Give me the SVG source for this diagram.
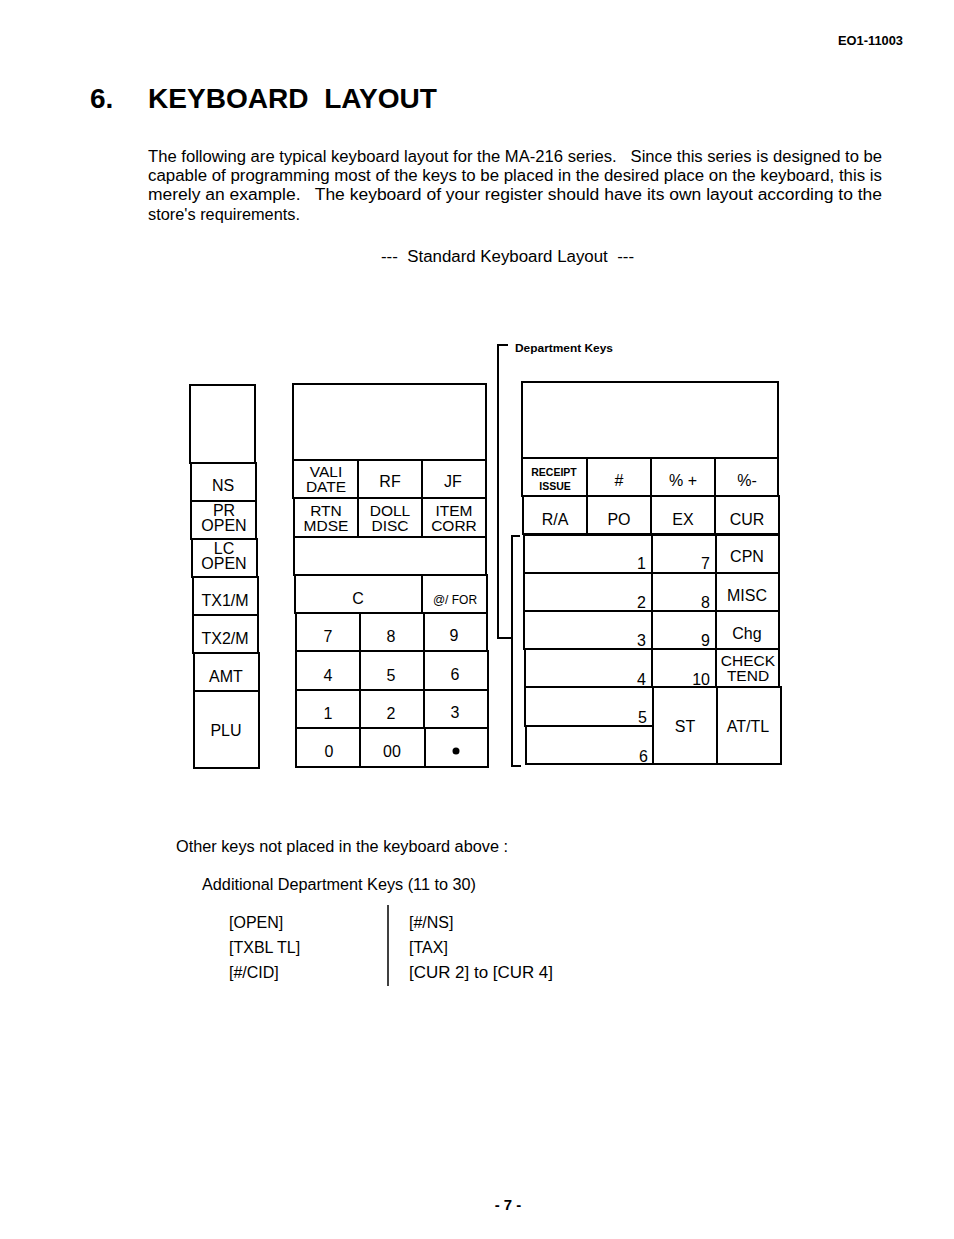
<svg xmlns="http://www.w3.org/2000/svg" width="954" height="1239" viewBox="0 0 954 1239">
<style>
  text { font-family: "Liberation Sans", Arial, sans-serif; fill: #000; }
  .k { font-size: 16px; text-anchor: middle; }
  .ks { font-size: 15.5px; text-anchor: middle; }
  .n { font-size: 16px; text-anchor: end; }
  .cell { fill: #fff; stroke: #000; stroke-width: 2; }
  .br { fill: none; stroke: #000; stroke-width: 2; }
  .p { font-size: 16px; }
</style>
<rect width="954" height="1239" fill="#fff"/>

<g id="header">
  <text x="838" y="45" font-size="12" font-weight="bold" textLength="65" lengthAdjust="spacingAndGlyphs">EO1-11003</text>
  <text x="90" y="108" font-size="28" font-weight="bold">6.</text>
  <text x="148" y="108" font-size="28" font-weight="bold" textLength="289" lengthAdjust="spacingAndGlyphs" xml:space="preserve">KEYBOARD  LAYOUT</text>
</g>

<g id="intro">
  <text class="p" x="148" y="162" textLength="734" lengthAdjust="spacingAndGlyphs" xml:space="preserve">The following are typical keyboard layout for the MA-216 series.   Since this series is designed to be</text>
  <text class="p" x="148" y="181" textLength="734" lengthAdjust="spacingAndGlyphs">capable of programming most of the keys to be placed in the desired place on the keyboard, this is</text>
  <text class="p" x="148" y="200" textLength="734" lengthAdjust="spacingAndGlyphs" xml:space="preserve">merely an example.   The keyboard of your register should have its own layout according to the</text>
  <text class="p" x="148" y="220" textLength="152" lengthAdjust="spacingAndGlyphs">store's requirements.</text>
  <text class="p" x="381" y="262" textLength="253" lengthAdjust="spacingAndGlyphs" xml:space="preserve">---  Standard Keyboard Layout  ---</text>
</g>

<g id="left-column">
  <rect class="cell" x="190" y="385" width="65" height="78"/>
  <rect class="cell" x="191" y="463" width="65" height="38"/>
  <text class="k" x="223" y="491">NS</text>
  <rect class="cell" x="191" y="501" width="65" height="38"/>
  <text class="k" x="224" y="516">PR</text>
  <text class="k" x="224" y="531">OPEN</text>
  <rect class="cell" x="192" y="539" width="65" height="38"/>
  <text class="k" x="224" y="554">LC</text>
  <text class="k" x="224" y="569">OPEN</text>
  <rect class="cell" x="193" y="577" width="65" height="38"/>
  <text class="k" x="225" y="606">TX1/M</text>
  <rect class="cell" x="193" y="615" width="65" height="38"/>
  <text class="k" x="225" y="644">TX2/M</text>
  <rect class="cell" x="194" y="653" width="65" height="38"/>
  <text class="k" x="226" y="682">AMT</text>
  <rect class="cell" x="194" y="691" width="65" height="77"/>
  <text class="k" x="226" y="736">PLU</text>
</g>

<g id="middle-block">
  <rect class="cell" x="293" y="384" width="193" height="76"/>
  <rect class="cell" x="293" y="460" width="65" height="38"/>
  <text class="ks" x="326" y="477">VALI</text>
  <text class="ks" x="326" y="492">DATE</text>
  <rect class="cell" x="358" y="460" width="64" height="38"/>
  <text class="k" x="390" y="487">RF</text>
  <rect class="cell" x="422" y="460" width="64" height="38"/>
  <text class="k" x="453" y="487">JF</text>
  <rect class="cell" x="294" y="498" width="64" height="39"/>
  <text class="ks" x="326" y="516">RTN</text>
  <text class="ks" x="326" y="531">MDSE</text>
  <rect class="cell" x="358" y="498" width="64" height="39"/>
  <text class="ks" x="390" y="516">DOLL</text>
  <text class="ks" x="390" y="531">DISC</text>
  <rect class="cell" x="422" y="498" width="64" height="39"/>
  <text class="ks" x="454" y="516">ITEM</text>
  <text class="ks" x="454" y="531">CORR</text>
  <rect class="cell" x="294" y="537" width="192" height="38"/>
  <rect class="cell" x="295" y="575" width="127" height="38"/>
  <text class="k" x="358" y="604">C</text>
  <rect class="cell" x="422" y="575" width="65" height="38"/>
  <text x="455" y="604" font-size="12" text-anchor="middle">@/ FOR</text>
  <rect class="cell" x="296" y="613" width="64" height="38"/>
  <text class="k" x="328" y="642">7</text>
  <rect class="cell" x="360" y="613" width="64" height="38"/>
  <text class="k" x="391" y="642">8</text>
  <rect class="cell" x="424" y="613" width="63" height="38"/>
  <text class="k" x="454" y="641">9</text>
  <rect class="cell" x="296" y="651" width="64" height="39"/>
  <text class="k" x="328" y="681">4</text>
  <rect class="cell" x="360" y="651" width="64" height="39"/>
  <text class="k" x="391" y="681">5</text>
  <rect class="cell" x="424" y="651" width="64" height="39"/>
  <text class="k" x="455" y="680">6</text>
  <rect class="cell" x="296" y="690" width="64" height="38"/>
  <text class="k" x="328" y="719">1</text>
  <rect class="cell" x="360" y="690" width="64" height="38"/>
  <text class="k" x="391" y="719">2</text>
  <rect class="cell" x="424" y="690" width="64" height="38"/>
  <text class="k" x="455" y="718">3</text>
  <rect class="cell" x="296" y="728" width="64" height="39"/>
  <text class="k" x="329" y="757">0</text>
  <rect class="cell" x="360" y="728" width="65" height="39"/>
  <text class="k" x="392" y="757">00</text>
  <rect class="cell" x="425" y="728" width="63" height="39"/>
  <circle cx="456" cy="751" r="3.5" fill="#000"/>
</g>

<g id="right-block">
  <rect class="cell" x="522" y="382" width="256" height="76"/>
  <rect class="cell" x="522" y="458" width="65" height="38"/>
  <text x="554" y="476" font-size="10.5" font-weight="bold" text-anchor="middle">RECEIPT</text>
  <text x="555" y="490" font-size="10.5" font-weight="bold" text-anchor="middle">ISSUE</text>
  <rect class="cell" x="587" y="458" width="64" height="38"/>
  <text class="k" x="619" y="486">#</text>
  <rect class="cell" x="651" y="458" width="64" height="38"/>
  <text class="k" x="683" y="486" xml:space="preserve">% +</text>
  <rect class="cell" x="715" y="458" width="63" height="38"/>
  <text class="k" x="747" y="486">%-</text>
  <rect class="cell" x="523" y="496" width="64" height="38"/>
  <text class="k" x="555" y="525">R/A</text>
  <rect class="cell" x="587" y="496" width="64" height="38"/>
  <text class="k" x="619" y="525">PO</text>
  <rect class="cell" x="651" y="496" width="64" height="38"/>
  <text class="k" x="683" y="525">EX</text>
  <rect class="cell" x="715" y="496" width="64" height="38"/>
  <text class="k" x="747" y="525">CUR</text>

  <rect class="cell" x="524" y="535" width="128" height="38"/>
  <text class="n" x="646" y="569">1</text>
  <rect class="cell" x="652" y="535" width="64" height="38"/>
  <text class="n" x="710" y="569">7</text>
  <rect class="cell" x="716" y="535" width="63" height="38"/>
  <text class="k" x="747" y="562">CPN</text>

  <rect class="cell" x="524" y="573" width="128" height="38"/>
  <text class="n" x="646" y="608">2</text>
  <rect class="cell" x="652" y="573" width="64" height="38"/>
  <text class="n" x="710" y="608">8</text>
  <rect class="cell" x="716" y="573" width="63" height="38"/>
  <text class="k" x="747" y="601">MISC</text>

  <rect class="cell" x="524" y="611" width="128" height="38"/>
  <text class="n" x="646" y="646">3</text>
  <rect class="cell" x="652" y="611" width="64" height="38"/>
  <text class="n" x="710" y="646">9</text>
  <rect class="cell" x="716" y="611" width="63" height="38"/>
  <text class="k" x="747" y="639">Chg</text>

  <rect class="cell" x="525" y="649" width="127" height="38"/>
  <text class="n" x="646" y="685">4</text>
  <rect class="cell" x="652" y="649" width="64" height="38"/>
  <text class="n" x="710" y="685">10</text>
  <rect class="cell" x="716" y="649" width="63" height="38"/>
  <text class="ks" x="748" y="666">CHECK</text>
  <text class="ks" x="748" y="681">TEND</text>

  <rect class="cell" x="525" y="687" width="128" height="39"/>
  <text class="n" x="647" y="723">5</text>
  <rect class="cell" x="526" y="726" width="127" height="38"/>
  <text class="n" x="648" y="762">6</text>
  <rect class="cell" x="653" y="687" width="64" height="77"/>
  <text class="k" x="685" y="732">ST</text>
  <rect class="cell" x="717" y="687" width="64" height="77"/>
  <text class="k" x="748" y="732">AT/TL</text>
</g>

<g id="connectors">
  <polyline class="br" points="508,345 498,345 498,638 512,638"/>
  <polyline class="br" points="520,536 512,536 512,766 521,766"/>
</g>

<g id="dept-label">
  <text x="515" y="352" font-size="11.5" font-weight="bold" textLength="98" lengthAdjust="spacingAndGlyphs">Department Keys</text>
</g>

<g id="other-keys">
  <text class="p" x="176" y="852" textLength="332" lengthAdjust="spacingAndGlyphs">Other keys not placed in the keyboard above :</text>
  <text class="p" x="202" y="890" textLength="274" lengthAdjust="spacingAndGlyphs">Additional Department Keys (11 to 30)</text>
  <text class="p" x="229" y="928">[OPEN]</text>
  <text class="p" x="229" y="953">[TXBL TL]</text>
  <text class="p" x="229" y="978">[#/CID]</text>
  <line x1="388" y1="905" x2="388" y2="986" stroke="#000" stroke-width="1.5"/>
  <text class="p" x="409" y="928">[#/NS]</text>
  <text class="p" x="409" y="953">[TAX]</text>
  <text class="p" x="409" y="978" textLength="144" lengthAdjust="spacingAndGlyphs">[CUR 2] to [CUR 4]</text>
</g>

<g id="footer">
  <text x="508" y="1210" font-size="15" font-weight="bold" text-anchor="middle">- 7 -</text>
</g>
</svg>
